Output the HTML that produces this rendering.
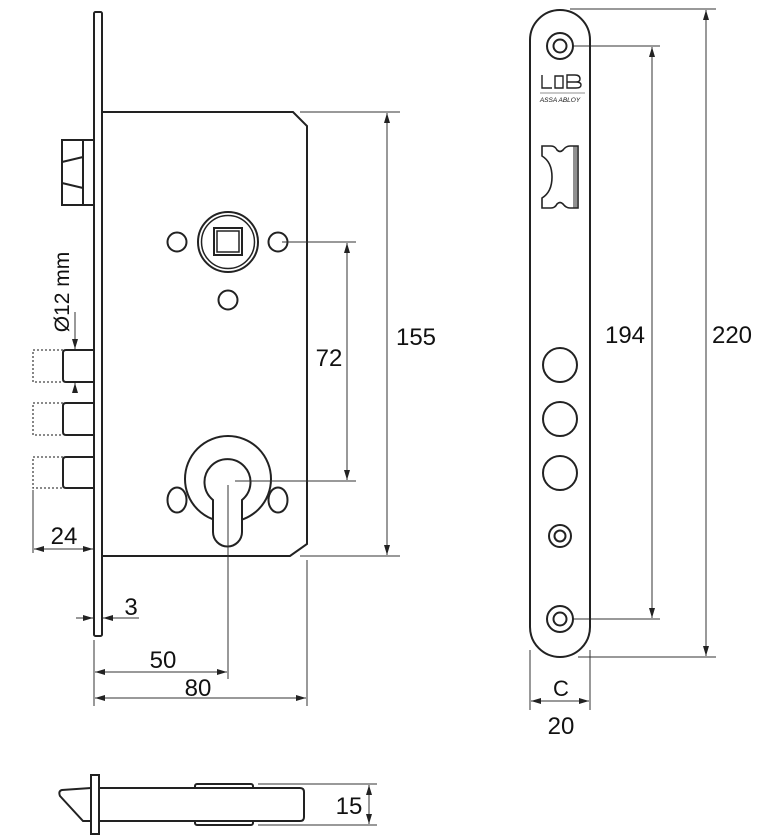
<!DOCTYPE html>
<html><head><meta charset="utf-8"><style>
html,body{margin:0;padding:0;background:#fff;}
svg{display:block;}
text{font-family:"Liberation Sans",sans-serif;fill:#111;}
</style></head><body>
<svg width="767" height="839" viewBox="0 0 767 839" xmlns="http://www.w3.org/2000/svg">
<defs>
<marker id="a" viewBox="0 0 10 6" refX="10" refY="3" markerWidth="10" markerHeight="6" orient="auto-start-reverse" markerUnits="userSpaceOnUse"><path d="M0,0 L10,3 L0,6 z" fill="#222"/></marker>
</defs>
<g fill="none" stroke="#222" stroke-width="2">
<rect x="94" y="12" width="8" height="624" rx="1.5"/>
<path d="M102,112 H293 L307,126 V544 L290,556 H102"/>
<path d="M93,140 H62 V205 H93 M83,140 V205 M62,162 L83,157 M62,183 L83,188"/>
<circle cx="228" cy="242" r="30"/>
<circle cx="228" cy="242" r="26.5" stroke-width="1.5"/>
<rect x="214" y="228" width="28" height="27" stroke-width="2"/>
<rect x="217" y="231" width="22" height="21" stroke-width="1.5"/>
<circle cx="177" cy="242" r="9.5"/>
<circle cx="278" cy="242" r="9.5"/>
<circle cx="228" cy="300" r="9.5"/>
<ellipse cx="177" cy="500" rx="9.5" ry="12.5"/>
<ellipse cx="278" cy="500" rx="9.5" ry="12.5"/>
<circle cx="228" cy="479" r="43" fill="#fff"/>
<path d="M213,500 A23,23 0 1 1 242,500 V532 A14.5,14.5 0 0 1 213,532 Z" fill="#fff"/>
<path d="M94,350 H66 Q63,350 63,353 V379 Q63,382 66,382 H94"/>
<path d="M94,403 H66 Q63,403 63,406 V432 Q63,435 66,435 H94"/>
<path d="M94,457 H66 Q63,457 63,460 V485 Q63,488 66,488 H94"/>
</g>
<g fill="none" stroke="#444" stroke-width="1.3" stroke-dasharray="2,2">
<path d="M63,350 H33 V382 H63"/>
<path d="M63,403 H33 V435 H63"/>
<path d="M63,457 H33 V488 H63"/>
</g>
<g fill="none" stroke="#333" stroke-width="1">
<path d="M282,242 H356 M235,481 H356"/>
<line x1="347" y1="243" x2="347" y2="480" marker-start="url(#a)" marker-end="url(#a)"/>
<path d="M300,112 H400 M300,556 H400"/>
<line x1="387" y1="113" x2="387" y2="555" marker-start="url(#a)" marker-end="url(#a)"/>
<line x1="228" y1="485" x2="228" y2="679"/>
<line x1="75" y1="312" x2="75" y2="349" marker-end="url(#a)"/>
<line x1="75" y1="393" x2="75" y2="383" marker-end="url(#a)"/>
<line x1="33" y1="490" x2="33" y2="553"/>
<line x1="34" y1="549" x2="93" y2="549" marker-start="url(#a)" marker-end="url(#a)"/>
<line x1="76" y1="618" x2="93" y2="618" marker-end="url(#a)"/>
<line x1="139" y1="618" x2="103" y2="618" marker-end="url(#a)"/>
<line x1="94" y1="640" x2="94" y2="706"/>
<line x1="307" y1="560" x2="307" y2="706"/>
<line x1="95" y1="672" x2="227" y2="672" marker-start="url(#a)" marker-end="url(#a)"/>
<line x1="95" y1="698" x2="306" y2="698" marker-start="url(#a)" marker-end="url(#a)"/>
<path d="M572,46 H660 M572,619 H660 M570,9 H716 M578,657 H716"/>
<line x1="652" y1="47" x2="652" y2="618" marker-start="url(#a)" marker-end="url(#a)"/>
<line x1="706" y1="10" x2="706" y2="656" marker-start="url(#a)" marker-end="url(#a)"/>
<path d="M530,650 V710 M590,650 V710"/>
<line x1="531" y1="701" x2="589" y2="701" marker-start="url(#a)" marker-end="url(#a)"/>
<path d="M258,784 H377 M258,825 H377"/>
<line x1="369" y1="785" x2="369" y2="824" marker-start="url(#a)" marker-end="url(#a)"/>
</g>
<g fill="none" stroke="#222" stroke-width="2">
<rect x="530" y="10" width="60" height="647" rx="30"/>
<circle cx="560" cy="46" r="13"/><circle cx="560" cy="46" r="6.5"/>
<circle cx="560" cy="619" r="13"/><circle cx="560" cy="619" r="6.5"/>
<circle cx="560" cy="536" r="11"/><circle cx="560" cy="536" r="5.5"/>
<circle cx="560" cy="365" r="17"/>
<circle cx="560" cy="419" r="17"/>
<circle cx="560" cy="473" r="17"/>
<path d="M542,146 H551 Q555,146 557,150 Q560,153 563,150 Q566,146 570,146 H578 V208 H570 Q566,208 563,204 Q560,201 557,204 Q555,208 551,208 H542 V198 Q552,192 552,177 Q552,162 542,156 Z" stroke-width="1.6"/>
<path d="M574,146 V208 M576,146 V208" stroke-width="1"/>
<path d="M542,75 V88 H552 M555,76 H563 V88 H555 Z M567,75 H575 Q580,75 580,79 Q580,82 576,82 Q581,82 581,85 Q581,88 576,88 H567 Z M567,82 H576" stroke-width="1.4"/>
<line x1="540" y1="93" x2="585" y2="93" stroke-width="0.6"/>
</g>
<text x="560" y="102" font-size="6.5" text-anchor="middle" font-style="italic">ASSA ABLOY</text>
<g fill="none" stroke="#222" stroke-width="2">
<rect x="195" y="784" width="58" height="41" rx="2"/>
<path d="M99,788 H300 Q304,788 304,792 V817 Q304,821 300,821 H99 Z" fill="#fff"/>
<rect x="91" y="775" width="8" height="59" fill="#fff"/>
<path d="M91,788 L62,790 Q58,791 60,796 L83,821 H91"/>
</g>
<g font-size="24">
<text x="329" y="366" text-anchor="middle">72</text>
<text x="416" y="345" text-anchor="middle">155</text>
<text x="64" y="544" text-anchor="middle">24</text>
<text x="131" y="615" text-anchor="middle">3</text>
<text x="163" y="668" text-anchor="middle">50</text>
<text x="198" y="696" text-anchor="middle">80</text>
<text x="349" y="814" text-anchor="middle">15</text>
<text x="625" y="343" text-anchor="middle">194</text>
<text x="732" y="343" text-anchor="middle">220</text>
<text x="561" y="696" text-anchor="middle" font-size="22">C</text>
<text x="561" y="734" text-anchor="middle">20</text>
<text transform="translate(69,292) rotate(-90)" text-anchor="middle" font-size="21">Ø12 mm</text>
</g>
</svg>
</body></html>
